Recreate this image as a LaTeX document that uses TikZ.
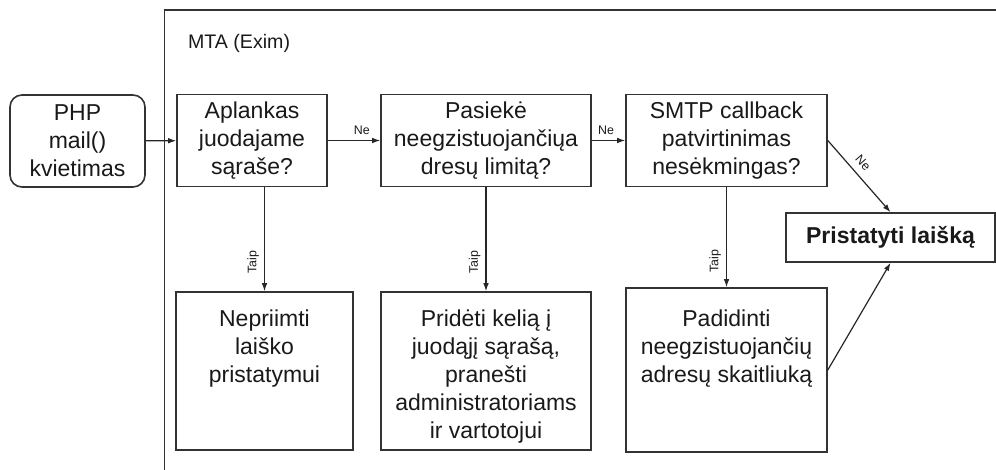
\documentclass[tikz,border=0pt]{standalone}
\usepackage{fontspec}
\setmainfont{Liberation Sans}
\usepackage{tikz}
\usetikzlibrary{positioning,arrows.meta}

\begin{document}
\begin{tikzpicture}[x=0.5pt,y=-0.5pt,
  every node/.style={font=\fontsize{11.5}{14}\selectfont,text=black!90},
  box/.style={draw=black!80,line width=0.8pt,inner sep=0pt,align=center},
  boxtext/.style={inner sep=0pt,align=center},
  link/.style={draw=black!85,line width=0.6pt,-{Latex[length=4pt,width=2.8pt]}},
  tag/.style={font=\fontsize{6.2}{7}\selectfont,inner sep=2.5pt}]
\useasboundingbox (0,0) rectangle (996,470);
% MTA frame
\draw[black!80,line width=0.8pt] (164.5,470) -- (164.5,10) -- (996,10);
\node[anchor=west,font=\fontsize{9.8}{12}\selectfont] (mta) at (181,43) {MTA (Exim)};
% top row
\node[box,rounded corners=6pt,minimum width=67.5pt,minimum height=46pt] (php) at (77.5,141) {PHP\\mail()\\kvietimas};
\node[box,minimum width=75pt,minimum height=46pt] (aplankas) at (252,140.5) {Aplankas\\juodajame\\sąraše?};
\node[box,minimum width=105pt,minimum height=46pt] (pasieke) at (486,140.5) {Pasiekė\\neegzistuojančiųa\\dresų limitą?};
\node[box,minimum width=100.5pt,minimum height=46pt] (smtp) at (726.5,140.5) {SMTP callback\\patvirtinimas\\nesėkmingas?};
\node[box,minimum width=104.5pt,minimum height=24.5pt,font=\fontsize{11.5}{14}\selectfont\bfseries] (pristatyti) at (890.5,237.5) {Pristatyti laišką};
% bottom row
\node[box,minimum width=88.5pt,minimum height=79pt] (nepriimti) at (264.5,371) {};
\node[boxtext,below=9pt of nepriimti.north] (nepriimtitxt) {Nepriimti\\laiško\\pristatymui};
\node[box,minimum width=105pt,minimum height=79pt] (prideti) at (486,371) {};
\node[boxtext,below=9pt of prideti.north] (pridetitxt) {Pridėti kelią į\\juodąjį sąrašą,\\pranešti\\administratoriams\\ir vartotojui};
\node[box,minimum width=100.5pt,minimum height=82pt] (padidinti) at (726.5,370) {};
\node[boxtext,below=11pt of padidinti.north] (padidintitxt) {Padidinti\\neegzistuojančių\\adresų skaitliuką};
% connectors
\draw[link] (php) -- (aplankas);
\draw[link] (aplankas) -- node[tag,above,pos=0.65]{Ne} (pasieke);
\draw[link] (pasieke) -- node[tag,above,pos=0.43]{Ne} (smtp);
\draw[link] (smtp.east) -- node[tag,above=1pt,sloped,pos=0.42]{Ne} (pristatyti.north);
\draw[link] (nepriimti.north |- aplankas.south) -- node[tag,rotate=90,anchor=south,pos=0.72]{Taip} (nepriimti.north);
\draw[link] (pasieke.south) -- node[tag,rotate=90,anchor=south,pos=0.72]{Taip} (prideti.north);
\draw[link] (smtp.south) -- node[tag,rotate=90,anchor=south,pos=0.74]{Taip} (padidinti.north);
\draw[link] (padidinti.east) -- (pristatyti.south);
\end{tikzpicture}
\end{document}
